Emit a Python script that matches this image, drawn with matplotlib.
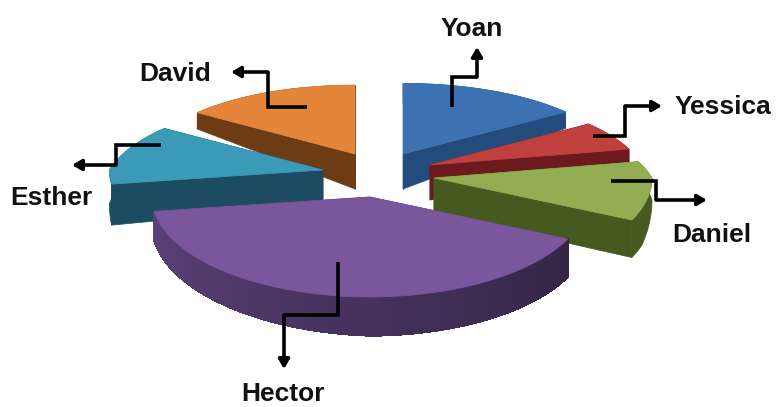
import numpy as np
import matplotlib
matplotlib.use('Agg')
import matplotlib.pyplot as plt
from matplotlib.colors import to_rgb

# share of each person, clockwise from twelve o'clock
names = ['Yoan', 'Yessica', 'Daniel', 'Hector', 'Esther', 'David']
shares = [16.7, 5.5, 9.7, 40.8, 10.7, 16.6]

top_colors = ['#3d72b2', '#bf403c', '#93ae52', '#7a569c', '#3a9ab8', '#e4853a']
side_colors = ['#234c7c', '#6c1a20', '#46591f', '#5a4078', '#1c4b62', '#6e3c14']

# how far each slice is pulled away from the pie centre, pixels
centre = (372, 172)
shift = {'Yoan': (31, -18), 'Yessica': (58, -7), 'Daniel': (62, 6),
         'Hector': (-2, 25), 'Esther': (-49, -2), 'David': (-17, -18)}
radius_scale = {'Yessica': 0.975, 'Esther': 0.98, 'David': 0.975}
draw_order = ['David', 'Yoan', 'Yessica', 'Esther', 'Daniel', 'Hector']

# leader lines, tail to arrow tip
leaders = {
    'Yoan': [(452, 107), (452, 77), (477, 77), (477, 47)],
    'Yessica': [(593, 136), (625, 136), (625, 106), (662, 106)],
    'Daniel': [(611, 181), (656, 181), (656, 200), (707, 200)],
    'Hector': [(338, 262), (338, 315), (284, 315), (284, 369)],
    'Esther': [(161, 145), (116, 145), (116, 165), (72, 165)],
    'David': [(307, 107), (268, 107), (268, 72), (231, 72)],
}
label_pos = {
    'Yoan': (472, 29), 'Yessica': (723, 107), 'Daniel': (712, 235),
    'Hector': (283, 394), 'Esther': (51, 198), 'David': (175, 74),
}


def project(angle):
    # tilted view: the far half of the pie looks smaller than the near half
    u = np.sin(angle)
    v = np.cos(angle)
    s = 1 - 0.28 * np.clip(v, 0, None)
    k = np.where(v > 0, 98, 100)
    return 218 * u * s, -k * v * s


def rim_depth(name, angle):
    v = np.cos(angle)
    if name == 'Hector':
        # the wall thins out towards the left end
        return np.interp(np.degrees(angle), [115, 180, 262], [38, 39, 29])
    d = np.interp(v, [-1, -0.3, 0.15, 0.6, 1], [40, 37, 14, 17, 20])
    if name == 'Esther':
        d = d + 12
    return d


def darker(color, amount):
    return tuple(c * amount for c in to_rgb(color))


fig = plt.figure(figsize=(7.76, 4.07), dpi=100)
ax = fig.add_axes([0, 0, 1, 1])
ax.set_xlim(0, 776)
ax.set_ylim(407, 0)
ax.axis('off')

edges = np.radians(np.cumsum([0] + shares) * 3.6)
apex_depth = 35

for name in draw_order:
    i = names.index(name)
    ang = np.linspace(edges[i], edges[i + 1], 80)
    px, py = project(ang)
    scale = radius_scale.get(name, 1)
    ax0 = centre[0] + shift[name][0]
    ay0 = centre[1] + shift[name][1]
    rim_x = ax0 + px * scale
    rim_y = ay0 + py * scale
    depth = rim_depth(name, ang)

    # flat side faces from the apex out to both ends of the rim
    for j in (0, -1):
        ax.fill([ax0, rim_x[j], rim_x[j], ax0],
                [ay0, rim_y[j], rim_y[j] + depth[j], ay0 + apex_depth],
                color=side_colors[i], lw=0.5)

    # outer wall as one shape, with strips on top where the shading runs along it
    ax.fill(np.r_[rim_x, rim_x[::-1]], np.r_[rim_y, (rim_y + depth)[::-1]],
            color=side_colors[i] if name != 'Hector' else darker(side_colors[i], 0.8), lw=0.5)
    if name == 'Hector':
        for j in range(len(ang) - 1):
            t = j / (len(ang) - 2)
            ax.fill([rim_x[j], rim_x[j + 1], rim_x[j + 1], rim_x[j]],
                    [rim_y[j], rim_y[j + 1], rim_y[j + 1] + depth[j + 1] - 0.5, rim_y[j] + depth[j] - 0.5],
                    color=darker(side_colors[i], 0.58 + 0.42 * t), lw=1, antialiased=False)

    ax.fill(np.r_[ax0, rim_x], np.r_[ay0, rim_y], color=top_colors[i], lw=0.5)

for name in names:
    pts = leaders[name]
    ax.plot([p[0] for p in pts[:-1]], [p[1] for p in pts[:-1]], color='black',
            lw=2.6, solid_joinstyle='miter', solid_capstyle='butt', zorder=5)
    ax.annotate('', xy=pts[-1], xytext=pts[-2], zorder=5,
                arrowprops=dict(arrowstyle='-|>,head_length=0.55,head_width=0.32',
                                color='black', lw=2.6, shrinkA=0, shrinkB=0))
    ax.text(label_pos[name][0], label_pos[name][1], name, ha='center', va='center',
            family='Liberation Sans', fontweight='bold', fontsize=19, color='#111111')

fig.savefig('out.png', dpi=100)
